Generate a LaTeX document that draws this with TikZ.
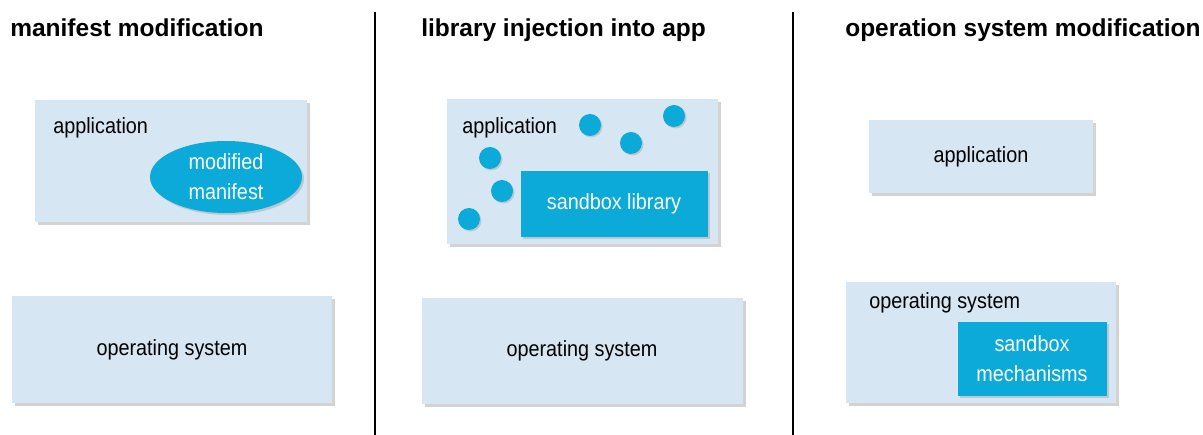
\documentclass[tikz,border=0pt]{standalone}
\usepackage{fontspec}
\setmainfont{Liberation Sans}
\newfontfamily\bodyfont{Liberation Sans}[FakeStretch=0.9]
\usepackage{xcolor}
\usepackage{tikz}
\usetikzlibrary{arrows,positioning,shadows,shapes,shapes.geometric}

\definecolor{boxblue}{HTML}{D6E6F3}
\definecolor{dotblue}{HTML}{0BAAD9}

\begin{document}
\begin{tikzpicture}[
            x = 1pt, y = -1pt, % pixel grid
            inner sep = 0pt,
            semithick % line style
        ]

        \tikzstyle{every node}=[font=\bodyfont\fontsize{22}{30}\selectfont]
        \tikzstyle{heading}=[anchor=base west, font=\fontsize{24.5}{28}\selectfont\bfseries]
        \tikzstyle{panel}=[
            rectangle,
            fill = boxblue,
            drop shadow = {shadow xshift=3pt, shadow yshift=-3pt, fill=gray, opacity=0.35}
        ]
        \tikzstyle{inner}=[
            rectangle,
            fill = dotblue,
            text = white,
            align = center,
            drop shadow = {shadow xshift=2pt, shadow yshift=-2pt, fill=gray, opacity=0.3}
        ]
        \tikzstyle{dot}=[
            circle,
            fill = dotblue,
            minimum size = 22pt,
            drop shadow = {shadow xshift=1.5pt, shadow yshift=-1.5pt, fill=gray, opacity=0.3}
        ]

        \useasboundingbox (0,0) rectangle (1203,435);

        % Headings
        \node[heading] (h1) at (10,37) {manifest modification};
        \node[heading] (h2) at (421,37) {library injection into app};
        \node[heading] (h3) at (845,37) {operation system modification};

        % Separators
        \coordinate (s1t) at (375,12);
        \coordinate (s1b) at (375,435);
        \coordinate (s2t) at (793,12);
        \coordinate (s2b) at (793,435);
        \draw[line width=2.5pt] (s1t) -- (s1b);
        \draw[line width=2.5pt] (s2t) -- (s2b);

        % Manifest modification
        \node[panel, minimum width=272pt, minimum height=122pt] (app1) at (171,161) {};
        \node[anchor=base west] (app1t) at (53,134) {application};
        \node[ellipse, fill=dotblue, text=white, align=center, minimum width=152pt, minimum height=72pt,
              drop shadow={shadow xshift=2pt, shadow yshift=-2pt, fill=gray, opacity=0.3}]
              (mani) at (226,177) {modified\\manifest};
        \node[panel, minimum width=320pt, minimum height=107pt] (os1) at (172,350) {operating system};

        % Library injection
        \node[panel, minimum width=271pt, minimum height=145pt] (app2) at (582,172) {};
        \node[anchor=base west] (app2t) at (462,134) {application};
        \node[inner, minimum width=187pt, minimum height=66pt] (lib) at (614,204) {sandbox library};
        \foreach \px/\py [count=\i] in {590/125, 674/116, 631/143, 490/158, 502/191, 469/219}
            \node[dot] (d\i) at (\px,\py) {};
        \node[panel, minimum width=321pt, minimum height=106pt] (os2) at (582,351) {operating system};

        % Operating system modification
        \node[panel, minimum width=224pt, minimum height=73pt] (app3) at (981,157) {application};
        \node[panel, minimum width=270pt, minimum height=121pt] (os3) at (981,343) {};
        \node[anchor=base west] (os3t) at (869,309) {operating system};
        \node[inner, minimum width=149pt, minimum height=74pt] (mech) at (1032,359) {sandbox\\mechanisms};
      \end{tikzpicture}
\end{document}
